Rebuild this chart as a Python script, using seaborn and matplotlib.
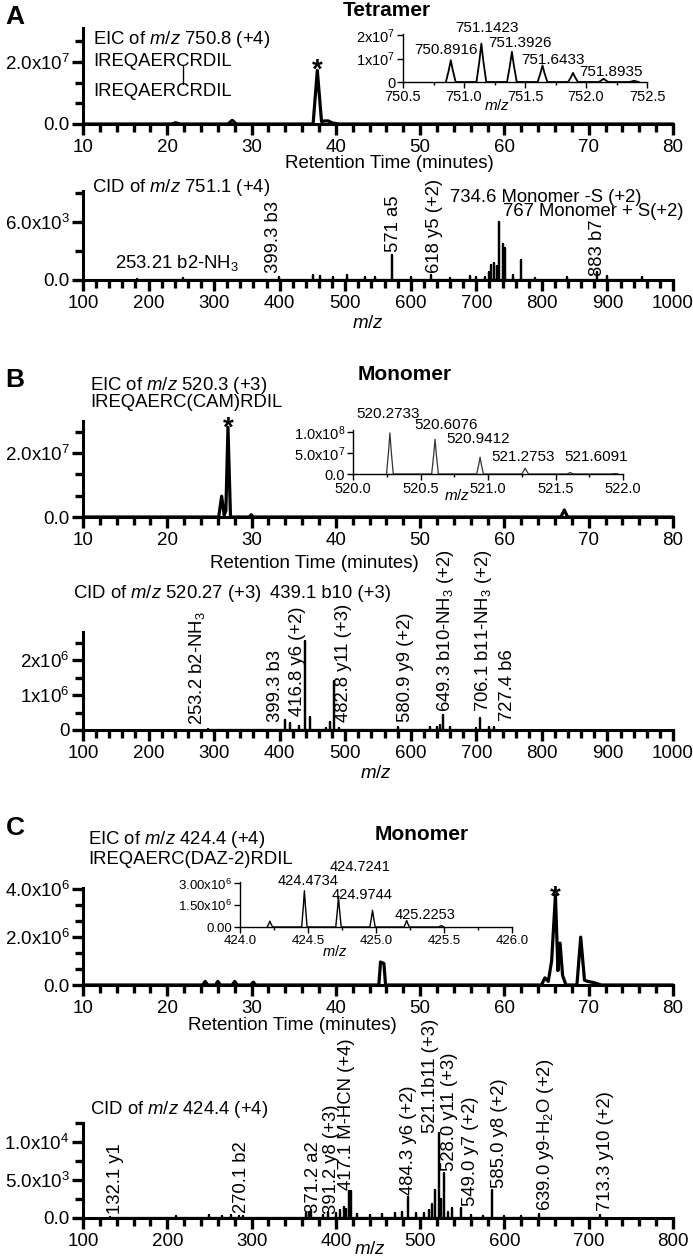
import numpy as np
import pandas as pd
import matplotlib.pyplot as plt
import seaborn as sns
from matplotlib.ticker import MultipleLocator
from matplotlib.lines import Line2D

sns.set_style("ticks")
plt.rcParams['font.family'] = ['Liberation Sans', 'DejaVu Sans']
plt.rcParams['mathtext.fontset'] = 'custom'
plt.rcParams['mathtext.rm'] = 'Liberation Sans'
plt.rcParams['mathtext.it'] = 'Liberation Sans:italic'
plt.rcParams['mathtext.bf'] = 'Liberation Sans:bold'
for k in ['text.color', 'axes.labelcolor', 'xtick.color', 'ytick.color', 'axes.edgecolor']:
    plt.rcParams[k] = 'black'

W, H = 693, 1259

# --- Data ---

# A: tetramer EIC (minutes, intensity x1e7)
eic_a_rt = [10, 20.5, 21, 21.5, 27.2, 27.7, 28.2, 37.3, 37.8, 38.3, 38.7, 39.1, 39.6, 40.5, 80]
eic_a_int = [0, 0, 0.04, 0, 0, 0.12, 0, 0, 1.73, 0.08, 0.1, 0.1, 0.03, 0, 0]

# A: isotope inset (m/z, intensity x1e7)
iso_a_mz = [750.8916, 751.1423, 751.3926, 751.6433, 751.8935, 752.144, 752.394]
iso_a_int = [0.93, 1.64, 1.29, 0.71, 0.39, 0.14, 0.05]

# A: CID spectrum (m/z, intensity x1e3)
cid_a_mz = [183, 253, 399, 451, 461, 481, 503, 530, 545, 571, 600, 631, 660, 690, 700,
            713, 720, 723, 727, 731, 734.6, 741, 744, 756, 767.6, 790, 838, 884, 900, 953]
cid_a_int = [0.15, 0.2, 0.3, 0.5, 0.4, 0.3, 0.5, 0.3, 0.3, 2.6, 0.3, 0.5, 0.2, 0.4, 0.3,
             0.3, 0.8, 1.6, 1.8, 1.4, 6.0, 3.7, 3.3, 0.5, 2.1, 0.2, 0.3, 0.8, 0.4, 0.3]

# B: monomer (CAM) EIC (minutes, intensity x1e7)
eic_b_rt = [10, 26.1, 26.45, 26.75, 26.95, 27.2, 27.5, 29.7, 29.95, 30.2, 66.7, 67.1, 67.5, 80]
eic_b_int = [0, 0, 0.65, 0.05, 0.2, 2.8, 0, 0, 0.07, 0, 0, 0.22, 0, 0]

# B: isotope inset (m/z, intensity x1e8)
iso_b_mz = [520.2733, 520.6076, 520.9412, 521.2753, 521.6091, 521.94]
iso_b_int = [0.98, 0.83, 0.4, 0.14, 0.035, 0.01]

# B: CID spectrum (m/z, intensity x1e6)
cid_b_mz = [290, 408, 416, 430, 439.1, 446, 470, 477, 482.8, 490, 580, 630, 640, 645,
            649.3, 660, 700, 706.1, 720, 727]
cid_b_int = [0.03, 0.28, 0.2, 0.12, 2.55, 0.37, 0.05, 0.24, 1.4, 0.05, 0.08, 0.1, 0.1, 0.15,
             0.43, 0.1, 0.05, 0.33, 0.08, 0.08]

# C: monomer (DAZ-2) EIC (minutes, intensity x1e6)
eic_c_rt = [10, 24.2, 24.5, 24.8, 25.7, 26.0, 26.3, 27.7, 28.0, 28.3, 29.9, 30.2, 30.5,
            45.1, 45.3, 45.7, 45.9, 64.4, 64.8, 65.2, 65.6, 66.05, 66.35, 66.6, 66.9, 67.3,
            68.6, 69.05, 69.5, 69.9, 70.6, 71.5, 80]
eic_c_int = [0, 0, 0.15, 0, 0, 0.15, 0, 0, 0.15, 0, 0, 0.12, 0,
             0, 0.96, 0.9, 0, 0, 0.3, 0.15, 1.0, 3.75, 0.6, 1.75, 0.4, 0,
             0, 2.0, 0.2, 0.15, 0.1, 0, 0]

# C: isotope inset (m/z, intensity x1e6)
iso_c_mz = [424.22, 424.4734, 424.7241, 424.9744, 425.2253, 425.48]
iso_c_int = [0.4, 2.5, 2.1, 1.15, 0.45, 0.1]

# C: CID spectrum (m/z, intensity x1e3)
cid_c_mz = [132, 210, 250, 265, 275, 285, 290, 365, 368, 371, 385, 391, 400, 405, 410, 412,
            415, 418, 425, 440, 455, 470, 478, 485, 495, 505, 510, 514, 518, 522, 525, 528,
            533, 538, 549, 560, 575, 585, 600, 620, 641, 713]
cid_c_int = [0.1, 0.2, 0.4, 0.3, 0.4, 0.3, 0.3, 0.6, 0.8, 1.0, 0.4, 0.8, 0.7, 1.0, 1.5, 1.2,
             3.6, 3.6, 0.5, 0.4, 0.5, 0.6, 0.8, 2.8, 0.6, 0.7, 1.0, 1.8, 3.7, 11.2, 2.5, 5.9,
             0.8, 1.3, 1.3, 0.4, 0.3, 3.7, 0.3, 0.3, 0.5, 0.4]

# --- Helpers ---

fig = plt.figure(figsize=(W / 100, H / 100), dpi=100)


def box(x0, x1, ytop, ybase):
    ax = fig.add_axes([x0 / W, 1 - ybase / H, (x1 - x0) / W, (ybase - ytop) / H])
    ax.set_facecolor('none')
    return ax


def put(px, py, s, size=13.3, **kw):
    kw.setdefault('va', 'center')
    kw.setdefault('ha', 'left')
    fig.text(px / W, 1 - py / H, s, fontsize=size, **kw)


def vlabel(px, pybot, s):
    fig.text(px / W, 1 - pybot / H, s, fontsize=13.3, rotation=90, ha='center', va='bottom')


def trace(ax, x, y, lw, color='black'):
    df = pd.DataFrame({'x': x, 'y': y})
    sns.lineplot(data=df, x='x', y='y', ax=ax, color=color, lw=lw, sort=False,
                 estimator=None, legend=False, clip_on=False)


def sticks(mz, inten, scale):
    xs, ys = [], []
    for m, h in zip(mz, inten):
        xs += [m, m, m]
        ys += [0, h * scale, 0]
    return xs, ys


def peaks(mz, inten, scale, half):
    xs, ys = [], []
    for m, h in zip(mz, inten):
        xs += [m - half, m - half * 0.4, m, m + half * 0.4, m + half]
        ys += [0, 0.55 * h * scale, h * scale, 0.55 * h * scale, 0]
    return xs, ys


def star(ax, x, y):
    ax.text(x, y, '*', ha='center', va='baseline', fontsize=20, fontweight='bold', clip_on=False)


def style_main(ax, xlim, xmajor, xminor, ylim, yticks, ylabels, yminor):
    ax.set_xlim(xlim)
    ax.set_ylim(ylim)
    ax.set_xticks(xmajor, [str(v) for v in xmajor])
    ax.xaxis.set_minor_locator(MultipleLocator(xminor))
    ax.set_yticks(yticks, ylabels)
    ax.yaxis.set_minor_locator(MultipleLocator(yminor))
    sns.despine(ax=ax)
    for s in ['left', 'bottom']:
        ax.spines[s].set_linewidth(2.2)
    ax.tick_params(which='both', bottom=True, left=True, direction='out', width=2.4, color='black')
    ax.tick_params(which='major', length=8, labelsize=13.5)
    ax.tick_params(which='minor', length=5.5)
    ax.tick_params(axis='x', which='major', pad=2.5)
    ax.tick_params(axis='y', which='major', pad=1.5)
    ax.set_xlabel('')
    ax.set_ylabel('')


def style_inset(ax, xlim, xticks, ylim, yticks, ylabels, size, xminor):
    ax.set_xlim(xlim)
    ax.set_ylim(ylim)
    ax.set_xticks(xticks, [f'{v:.1f}' for v in xticks])
    ax.xaxis.set_minor_locator(MultipleLocator(xminor))
    ax.set_yticks(yticks, ylabels)
    sns.despine(ax=ax)
    for s in ['left', 'bottom']:
        ax.spines[s].set_linewidth(1.0)
    ax.tick_params(which='both', bottom=True, left=True, direction='out', width=1.0, color='black')
    ax.tick_params(which='major', length=4, labelsize=size, pad=1.5)
    ax.tick_params(which='minor', length=2.5)
    ax.set_xlabel('')
    ax.set_ylabel('')


mz = r'$\mathit{m/z}$'

# ================= Panel A =================
ax = box(83, 673, 28, 124)
trace(ax, eic_a_rt, np.array(eic_a_int) * 1e7, 2.3)
style_main(ax, (10, 80), list(range(10, 81, 10)), 2, (0, 3.1e7),
           [0, 2e7], ['0.0', r'2.0x10$^7$'], 2e7 / 3)
star(ax, 37.8, 1.5e7)

ax = box(403, 647, 34, 82)
x, y = peaks(iso_a_mz, iso_a_int, 1e7, 0.04)
trace(ax, x, y, 1.3)
style_inset(ax, (750.5, 752.5), [750.5, 751.0, 751.5, 752.0, 752.5], (0, 2.05e7),
            [0, 1e7, 2e7], ['0', r'1x10$^7$', r'2x10$^7$'], 10.5, 0.25)

ax = box(83, 673, 191, 280)
x, y = sticks(cid_a_mz, cid_a_int, 1e3)
trace(ax, x, y, 1.6)
style_main(ax, (100, 1000), list(range(100, 1001, 100)), 20, (0, 9.2e3),
           [0, 6e3], ['0.0', r'6.0x10$^3$'], 3e3)

put(15, 17, 'A', size=19, fontweight='bold', ha='center')
put(387, 11, 'Tetramer', size=15, fontweight='bold', ha='center')
put(93, 40, f'EIC of {mz} 750.8 (+4)')
put(93, 62, 'IREQAERCRDIL')
put(93, 92, 'IREQAERCRDIL')
fig.add_artist(Line2D([183 / W, 183 / W], [1 - 66 / H, 1 - 84 / H], color='black', lw=1.0,
                      transform=fig.transFigure))
put(487, 28, '751.1423', size=11, ha='center')
put(446, 50, '750.8916', size=11, ha='center')
put(520, 43, '751.3926', size=11, ha='center')
put(553, 60, '751.6433', size=11, ha='center')
put(611, 72, '751.8935', size=11, ha='center')
put(497, 106, mz, size=11, ha='center')
put(389, 164, 'Retention Time (minutes)', size=13.5, ha='center')

put(92, 187, f'CID of {mz} 751.1 (+4)')
put(115, 263, r'253.21 b2-NH$_3$')
put(450, 197, '734.6 Monomer -S (+2)')
put(503, 212, '767 Monomer + S(+2)')
vlabel(273, 273, '399.3 b3')
vlabel(393, 252, '571 a5')
vlabel(435, 273, '618 y5 (+2)')
vlabel(597, 276, '883 b7')
put(368, 323, mz, size=13.5, ha='center')

# ================= Panel B =================
ax = box(83, 673, 421, 517)
trace(ax, eic_b_rt, np.array(eic_b_int) * 1e7, 2.3)
style_main(ax, (10, 80), list(range(10, 81, 10)), 2, (0, 3.0e7),
           [0, 2e7], ['0.0', r'2.0x10$^7$'], 2e7 / 3)
star(ax, 27.2, 2.55e7)

ax = box(353, 623, 430, 474)
x, y = peaks(iso_b_mz, iso_b_int, 1e8, 0.025)
trace(ax, x, y, 0.9, color='#333333')
style_inset(ax, (520.0, 522.0), [520.0, 520.5, 521.0, 521.5, 522.0], (0, 1.05e8),
            [0, 5e7, 1e8], ['0.0', r'5.0x10$^7$', r'1.0x10$^8$'], 10.5, 0.25)

ax = box(83, 673, 632, 730)
x, y = sticks(cid_b_mz, cid_b_int, 1e6)
trace(ax, x, y, 1.6)
style_main(ax, (100, 1000), list(range(100, 1001, 100)), 20, (0, 2.8e6),
           [0, 1e6, 2e6], ['0', r'1x10$^6$', r'2x10$^6$'], 0.5e6)

put(15, 380, 'B', size=19, fontweight='bold', ha='center')
put(405, 374, 'Monomer', size=15, fontweight='bold', ha='center')
put(90, 385, f'EIC of {mz} 520.3 (+3)')
put(90, 403, 'IREQAERC(CAM)RDIL')
put(388, 414, '520.2733', size=11, ha='center')
put(446, 425, '520.6076', size=11, ha='center')
put(478, 439, '520.9412', size=11, ha='center')
put(523, 457, '521.2753', size=11, ha='center')
put(596, 457, '521.6091', size=11, ha='center')
put(457, 496, mz, size=11, ha='center')
put(314, 563, 'Retention Time (minutes)', size=13.5, ha='center')

put(73, 594, f'CID of {mz} 520.27 (+3)')
put(270, 594, '439.1 b10 (+3)')
vlabel(197, 725, r'253.2 b2-NH$_3$')
vlabel(276, 722, '399.3 b3')
vlabel(297, 716, '416.8 y6 (+2)')
vlabel(343, 722, '482.8 y11 (+3)')
vlabel(405, 722, '580.9 y9 (+2)')
vlabel(445, 712, r'649.3 b10-NH$_3$ (+2)')
vlabel(483, 712, r'706.1 b11-NH$_3$ (+2)')
vlabel(507, 721, '727.4 b6')
put(376, 773, mz, size=13.5, ha='center')

# ================= Panel C =================
ax = box(83, 673, 888, 985)
trace(ax, eic_c_rt, np.array(eic_c_int) * 1e6, 2.3)
style_main(ax, (10, 80), list(range(10, 81, 10)), 2, (0, 4.05e6),
           [0, 2e6, 4e6], ['0.0', r'2.0x10$^6$', r'4.0x10$^6$'], 2e6 / 3)
star(ax, 66.05, 3.35e6)

ax = box(240, 512, 882, 927)
x, y = peaks(iso_c_mz, iso_c_int, 1e6, 0.02)
trace(ax, x, y, 1.0)
style_inset(ax, (424.0, 426.0), [424.0, 424.5, 425.0, 425.5, 426.0], (0, 3.1e6),
            [0, 1.5e6, 3e6], ['0.00', r'1.50x10$^6$', r'3.00x10$^6$'], 9.5, 0.25)

ax = box(83, 673, 1123, 1218)
x, y = sticks(cid_c_mz, cid_c_int, 1e3)
trace(ax, x, y, 1.6)
style_main(ax, (100, 800), list(range(100, 801, 100)), 20, (0, 1.25e4),
           [0, 5e3, 1e4], ['0.0', r'5.0x10$^3$', r'1.0x10$^4$'], 2.5e3)

put(15, 828, 'C', size=19, fontweight='bold', ha='center')
put(422, 835, 'Monomer', size=15, fontweight='bold', ha='center')
put(88, 840, f'EIC of {mz} 424.4 (+4)')
put(88, 860, 'IREQAERC(DAZ-2)RDIL')
put(308, 881, '424.4734', size=10.5, ha='center')
put(360, 867, '424.7241', size=10.5, ha='center')
put(362, 895, '424.9744', size=10.5, ha='center')
put(425, 915, '425.2253', size=10.5, ha='center')
put(335, 952, mz, size=10.5, ha='center')
put(292, 1025, 'Retention Time (minutes)', size=13.5, ha='center')

put(90, 1110, f'CID of {mz} 424.4 (+4)')
vlabel(116, 1214, '132.1 y1')
vlabel(241, 1213, '270.1 b2')
vlabel(314, 1213, '371.2 a2')
vlabel(332, 1214, '391.2 y8 (+3)')
vlabel(347, 1190, '417.1 M-HCN (+4)')
vlabel(408, 1195, '484.3 y6 (+2)')
vlabel(430, 1133, '521.1b11 (+3)')
vlabel(449, 1171, '528.0 y11 (+3)')
vlabel(470, 1206, '549.0 y7 (+2)')
vlabel(500, 1188, '585.0 y8 (+2)')
vlabel(545, 1211, r'639.0 y9-H$_2$O (+2)')
vlabel(605, 1211, '713.3 y10 (+2)')
put(370, 1250, mz, size=13.5, ha='center')

fig.savefig('out.png', dpi=100)
